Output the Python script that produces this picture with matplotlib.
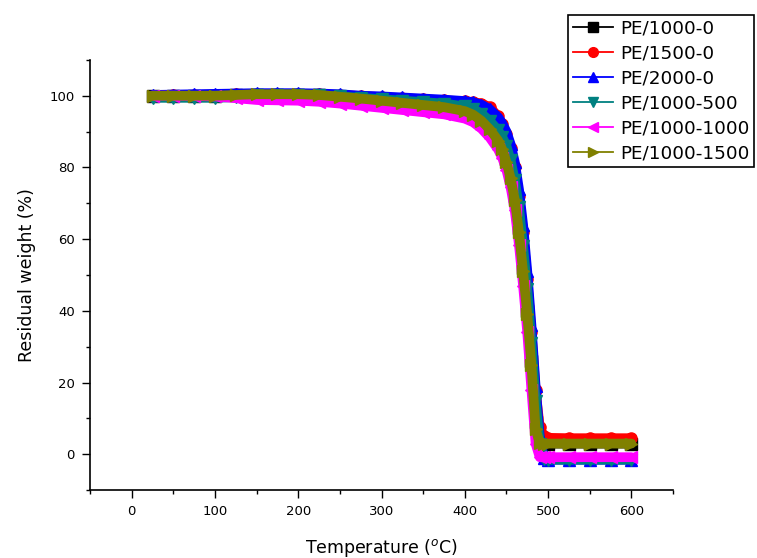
import matplotlib
matplotlib.use('Agg')
import matplotlib.pyplot as plt
from matplotlib.lines import Line2D
from matplotlib.ticker import MultipleLocator

# TGA curves: temperature (°C) and residual weight (%)
temp = [25, 50, 75, 100, 125, 150, 175, 200, 225, 250, 275, 300, 325, 350, 375, 400,
        410, 420, 430, 440, 445, 450, 455, 460, 465, 470, 475, 480, 485, 490, 495,
        500, 525, 550, 575, 600]

pe_1000_0 = [99.8, 99.8, 99.8, 99.9, 100.1, 100.3, 100.3, 100.3, 100.1, 99.7, 99.2, 98.7,
             98.2, 97.6, 97.0, 96.0, 95.1, 93.5, 91.2, 88.2, 85.8, 82.4, 78, 72, 63,
             52, 40, 26, 9, 3.1, 3.0, 3.0, 3.0, 3.0, 3.0, 3.0]
pe_1500_0 = [100.0, 100.1, 100.2, 100.3, 100.4, 100.5, 100.5, 100.5, 100.4, 100.2, 99.9, 99.6,
             99.3, 99.0, 98.7, 98.4, 98.2, 97.8, 96.8, 94.2, 92.0, 89.2, 85.5, 80, 72,
             62, 49, 34, 18, 7.5, 5, 4.6, 4.5, 4.5, 4.5, 4.5]
pe_2000_0 = [100.2, 100.3, 100.4, 100.5, 100.6, 100.7, 100.7, 100.7, 100.6, 100.4, 100.0, 99.8,
             99.5, 99.2, 98.9, 98.5, 98.2, 97.5, 96.2, 94, 92.3, 90, 86.5, 81.5, 74,
             64, 51, 36, 19, 5, -1, -1.5, -1.5, -1.5, -1.5, -1.5]
pe_1000_500 = [99.4, 99.4, 99.4, 99.4, 99.6, 100.2, 100.3, 100.3, 100.1, 99.8, 99.4, 99.0,
               98.6, 98.2, 97.8, 97.0, 96.3, 95.0, 93.0, 90.3, 88.5, 86, 82, 76.5, 69,
               58, 46, 31, 15, 3, -1.2, -1.5, -1.5, -1.5, -1.5, -1.5]
pe_1000_1000 = [100.0, 100.0, 99.9, 99.8, 99.3, 98.8, 98.7, 98.6, 98.3, 97.8, 97.2, 96.6,
                96.0, 95.4, 94.8, 93.6, 92.6, 90.8, 88.3, 85, 82.6, 79.3, 74.5, 68, 58.5,
                47, 34, 18, 3, -0.8, -0.8, -0.8, -0.8, -0.8, -0.8, -0.8]
pe_1000_1500 = [100.0, 100.0, 100.0, 100.0, 100.2, 100.4, 100.4, 100.4, 100.2, 99.7, 99.2, 98.6,
                98.0, 97.4, 96.8, 95.7, 94.7, 93.0, 90.6, 87.5, 85, 81.5, 77, 71, 62,
                51, 39, 25, 7, 3.2, 3.0, 3.0, 3.0, 3.0, 3.0, 3.0]

labels = ['PE/1000-0', 'PE/1500-0', 'PE/2000-0', 'PE/1000-500', 'PE/1000-1000', 'PE/1000-1500']
series = [pe_1000_0, pe_1500_0, pe_2000_0, pe_1000_500, pe_1000_1000, pe_1000_1500]
colors = ['#000000', '#ff0000', '#0000ff', '#008080', '#ff00ff', '#808000']
markers = ['s', 'o', '^', 'v', '<', '>']

fig = plt.figure(figsize=(7.57, 5.58), dpi=100)
ax = fig.add_axes([0.119, 0.1215, 0.770, 0.7713])

for y, c, m in zip(series, colors, markers):
    ax.plot(temp, y, color=c, lw=7, marker=m, ms=8, mec=c, mfc=c,
            solid_joinstyle='round', solid_capstyle='round')

ax.set_xlim(-50, 650)
ax.set_ylim(-10, 110)
ax.xaxis.set_major_locator(MultipleLocator(100))
ax.xaxis.set_minor_locator(MultipleLocator(50))
ax.yaxis.set_major_locator(MultipleLocator(20))
ax.yaxis.set_minor_locator(MultipleLocator(10))

for side in ['top', 'right']:
    ax.spines[side].set_visible(False)
for side in ['left', 'bottom']:
    ax.spines[side].set_linewidth(1.2)

ax.tick_params(which='major', direction='out', length=5.5, width=1.0, labelsize=9.5, pad=5.5)
ax.tick_params(which='minor', direction='out', length=3, width=1.0)

ax.set_xlabel('Temperature ($^{o}$C)', fontsize=12.5, labelpad=13)
ax.set_ylabel('Residual weight (%)', fontsize=12.5, labelpad=10)

handles = [Line2D([], [], color=c, lw=1.3, marker=m, ms=7, mec=c, mfc=c)
           for c, m in zip(colors, markers)]
leg = fig.legend(handles, labels, loc='upper left',
                 bbox_to_anchor=(568 / 757, 1 - 15 / 558), bbox_transform=fig.transFigure,
                 fontsize=13.2, frameon=True, fancybox=False, framealpha=1,
                 edgecolor='black', handlelength=2.2, handletextpad=0.4,
                 borderpad=0.25, labelspacing=0.38, borderaxespad=0)
leg.get_frame().set_linewidth(1.2)

fig.savefig('out.png', dpi=100)
